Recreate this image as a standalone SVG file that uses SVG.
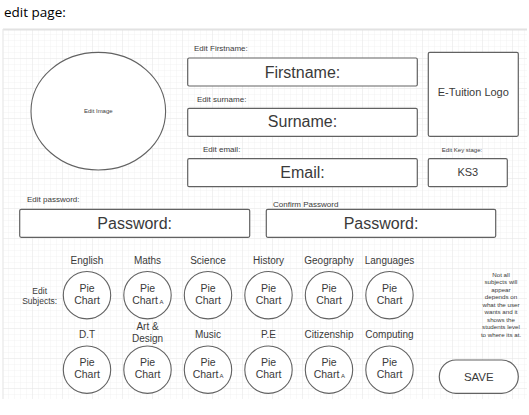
<svg xmlns="http://www.w3.org/2000/svg" width="529" height="415" viewBox="0 0 529 415">
<defs>
<pattern id="minor" x="3" y="29" width="6" height="6" patternUnits="userSpaceOnUse">
<path d="M6 0V6M0 6H6" fill="none" stroke="#f0f0f0" stroke-width="0.8"/>
</pattern>
<pattern id="major" x="3" y="29" width="30" height="30" patternUnits="userSpaceOnUse">
<path d="M30 0V30M0 30H30" fill="none" stroke="#e6e6e6" stroke-width="0.8"/>
</pattern>
</defs>
<style>
text{font-family:"Liberation Sans",Arial,sans-serif;fill:#3a3a3a}
.box{fill:#ffffff;stroke:#626262;stroke-width:1.2}
.pie{fill:#ffffff;stroke:#626262;stroke-width:1.1}
.big{font-size:16px;text-anchor:middle}
.lab{font-size:8px}
.sub{font-size:10px;text-anchor:middle}
.pt{font-size:10.5px;text-anchor:middle}
.tiny{font-size:6px}
.note{font-size:6.2px;text-anchor:middle}
</style>
<rect width="529" height="415" fill="#ffffff"/>
<text x="4" y="17" style="font-family:'Open Sans','Liberation Sans',sans-serif;font-size:13.5px;fill:#000000">edit page:</text>
<g id="canvas">
<rect x="3" y="29" width="524" height="370" fill="#ffffff"/>
<rect x="3" y="29" width="524" height="370" fill="url(#minor)"/>
<rect x="3" y="29" width="524" height="370" fill="url(#major)"/>
<path d="M3 29.5H527" stroke="#e2e2e2" stroke-width="2"/>
<path d="M3 29V399" stroke="#e8e8e8" stroke-width="1.2"/>
</g>
<g id="image">
<ellipse class="pie" cx="98.3" cy="111.2" rx="67.3" ry="58.8"/>
<text x="98.3" y="113" style="font-size:6px;text-anchor:middle">Edit Image</text>
</g>
<g id="firstname">
<text class="lab" x="194" y="51">Edit Firstname:</text>
<rect class="box" x="187.7" y="58" width="229.6" height="28" rx="1.5"/>
<text class="big" x="302.5" y="77.5">Firstname:</text>
</g>
<g id="surname">
<text class="lab" x="197" y="102">Edit surname:</text>
<rect class="box" x="187.7" y="108.3" width="229.6" height="28" rx="1.5"/>
<text class="big" x="302.5" y="127">Surname:</text>
</g>
<g id="email">
<text class="lab" x="203" y="152">Edit email:</text>
<rect class="box" x="187.7" y="158.7" width="229.6" height="28" rx="1.5"/>
<text class="big" x="302.5" y="177.5">Email:</text>
</g>
<g id="logo">
<rect class="box" x="428.3" y="52.3" width="90" height="84" rx="1.5"/>
<text x="473.3" y="96" style="font-size:11px;text-anchor:middle">E-Tuition Logo</text>
</g>
<g id="keystage">
<text x="462" y="152" style="font-size:6px;text-anchor:middle">Edit Key stage:</text>
<rect class="box" x="428.3" y="158.7" width="79" height="28" rx="1.5"/>
<text x="467.8" y="175.5" style="font-size:11px;text-anchor:middle">KS3</text>
</g>
<g id="password">
<text class="lab" x="27" y="202">Edit password:</text>
<rect class="box" x="19.7" y="209.3" width="230" height="28" rx="1.5"/>
<text class="big" x="134.7" y="228.5">Password:</text>
</g>
<g id="confirm">
<text class="lab" x="273" y="206.5">Confirm Password</text>
<rect class="box" x="266.3" y="209.3" width="229.4" height="28" rx="1.5"/>
<text class="big" x="381" y="228.5">Password:</text>
</g>
<g id="edit-subjects">
<text x="39.7" y="293.5" style="font-size:8.5px;text-anchor:middle">Edit</text>
<text x="39.7" y="304" style="font-size:8.5px;text-anchor:middle">Subjects:</text>
</g>
<g id="english">
<text class="sub" x="87" y="264">English</text>
<circle class="pie" cx="87" cy="295.2" r="23.7"/>
<text class="pt" x="87" y="291.5">Pie</text><text class="pt" x="87" y="304">Chart</text>
</g>
<g id="maths">
<text class="sub" x="147.5" y="264">Maths</text>
<circle class="pie" cx="147.5" cy="295.2" r="23.7"/>
<text class="pt" x="147.5" y="291.5">Pie</text><text class="pt" x="145" y="304">Chart</text>
<text class="tiny" x="159.5" y="304">A</text>
</g>
<g id="science">
<text class="sub" x="208" y="264">Science</text>
<circle class="pie" cx="208" cy="295.2" r="23.7"/>
<text class="pt" x="208" y="291.5">Pie</text><text class="pt" x="208" y="304">Chart</text>
</g>
<g id="history">
<text class="sub" x="268.5" y="264">History</text>
<circle class="pie" cx="268.5" cy="295.2" r="23.7"/>
<text class="pt" x="268.5" y="291.5">Pie</text><text class="pt" x="268.5" y="304">Chart</text>
</g>
<g id="geography">
<text class="sub" x="329" y="264">Geography</text>
<circle class="pie" cx="329" cy="295.2" r="23.7"/>
<text class="pt" x="329" y="291.5">Pie</text><text class="pt" x="329" y="304">Chart</text>
</g>
<g id="languages">
<text class="sub" x="389.5" y="264">Languages</text>
<circle class="pie" cx="389.5" cy="295.2" r="23.7"/>
<text class="pt" x="389.5" y="291.5">Pie</text><text class="pt" x="389.5" y="304">Chart</text>
</g>
<g id="dt">
<text class="sub" x="87" y="338">D.T</text>
<circle class="pie" cx="87" cy="369.7" r="23.7"/>
<text class="pt" x="87" y="366">Pie</text><text class="pt" x="87" y="378.3">Chart</text>
</g>
<g id="art">
<text class="sub" x="147.5" y="330">Art &amp;</text>
<text class="sub" x="147.5" y="342">Design</text>
<circle class="pie" cx="147.5" cy="369.7" r="23.7"/>
<text class="pt" x="147.5" y="366">Pie</text><text class="pt" x="147.5" y="378.3">Chart</text>
</g>
<g id="music">
<text class="sub" x="208" y="338">Music</text>
<circle class="pie" cx="208" cy="369.7" r="23.7"/>
<text class="pt" x="208" y="366">Pie</text><text class="pt" x="205.5" y="378.3">Chart</text>
<text class="tiny" x="219.5" y="378.3">A</text>
</g>
<g id="pe">
<text class="sub" x="268.5" y="338">P.E</text>
<circle class="pie" cx="268.5" cy="369.7" r="23.7"/>
<text class="pt" x="268.5" y="366">Pie</text><text class="pt" x="268.5" y="378.3">Chart</text>
</g>
<g id="citizenship">
<text class="sub" x="329" y="338">Citizenship</text>
<circle class="pie" cx="329" cy="369.7" r="23.7"/>
<text class="pt" x="329" y="366">Pie</text><text class="pt" x="326.5" y="378.3">Chart</text>
<text class="tiny" x="341" y="378.3">A</text>
</g>
<g id="computing">
<text class="sub" x="389.5" y="338">Computing</text>
<circle class="pie" cx="389.5" cy="369.7" r="23.7"/>
<text class="pt" x="389.5" y="366">Pie</text><text class="pt" x="389.5" y="378.3">Chart</text>
</g>
<g id="note">
<text class="note" x="501" y="277">Not all</text>
<text class="note" x="501" y="284.4">subjects will</text>
<text class="note" x="501" y="291.8">appear</text>
<text class="note" x="501" y="299.3">depends on</text>
<text class="note" x="501" y="306.7">what the user</text>
<text class="note" x="501" y="314.2">wants and it</text>
<text class="note" x="501" y="321.6">shows the</text>
<text class="note" x="501" y="329">students level</text>
<text class="note" x="501" y="336.5">to where its at.</text>
</g>
<g id="save">
<rect class="box" x="439.3" y="360" width="79" height="33.3" rx="16.6"/>
<text x="478.8" y="380.8" style="font-size:11.5px;text-anchor:middle">SAVE</text>
</g>
<g id="connectors"/>
</svg>
